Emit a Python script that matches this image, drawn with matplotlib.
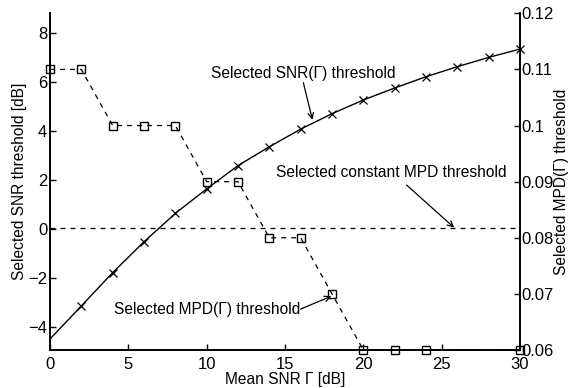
import matplotlib
matplotlib.use("Agg")
import matplotlib.pyplot as plt

plt.rcParams['font.family'] = ['Liberation Sans', 'DejaVu Sans']

snr_x = [0, 2, 4, 6, 8, 10, 12, 14, 16, 18, 20, 22, 24, 26, 28, 30]
snr_thr = [-4.48, -3.13, -1.77, -0.51, 0.65, 1.65, 2.6, 3.37, 4.09, 4.72, 5.28, 5.77, 6.23, 6.64, 7.02, 7.36]

mpd_x = [0, 2, 4, 6, 8, 10, 12, 14, 16, 18, 20, 22, 24, 30]
mpd_thr = [0.11, 0.11, 0.10, 0.10, 0.10, 0.09, 0.09, 0.08, 0.08, 0.07, 0.06, 0.06, 0.06, 0.06]

const_mpd = 0.0818

fig = plt.figure(figsize=(5.71, 3.88), dpi=100)
ax = fig.add_axes([0.0876, 0.0979, 0.8231, 0.8678])
ax2 = ax.twinx()

ax.plot(snr_x, snr_thr, '-', color='black', lw=1.0, marker='x', ms=6, mew=0.9,
        markevery=slice(1, None), clip_on=False, zorder=3)
ax2.plot(mpd_x, mpd_thr, '--', color='black', lw=0.9, marker='s', ms=6, mew=1.0,
         mfc='none', dashes=(4, 4), clip_on=False, zorder=3)
ax2.plot([0, 30], [const_mpd, const_mpd], '--', color='black', lw=0.9, dashes=(4, 4))

ax.set_xlim(0, 30)
ax.set_ylim(-4.93, 8.82)
ax2.set_ylim(0.06, 0.12)
ax.set_xticks([0, 5, 10, 15, 20, 25, 30])
ax.set_yticks([-4, -2, 0, 2, 4, 6, 8])
ax2.set_yticks([0.06, 0.07, 0.08, 0.09, 0.1, 0.11, 0.12])
ax2.set_yticklabels(['0.06', '0.07', '0.08', '0.09', '0.1', '0.11', '0.12'])

for a in (ax, ax2):
    a.spines['top'].set_visible(False)
    for s in ('left', 'right', 'bottom'):
        a.spines[s].set_linewidth(1.4)
    a.tick_params(direction='in', length=4, width=1.0, labelsize=12, pad=2)
ax.tick_params(axis='x', pad=5)
ax2.tick_params(pad=1)
ax2.spines['left'].set_visible(False)
ax.spines['right'].set_visible(False)
ax2.spines['bottom'].set_visible(False)

ax.set_xlabel('Mean SNR Γ [dB]', fontsize=11.2, labelpad=0)
ax.set_ylabel('Selected SNR threshold [dB]', fontsize=11.2, labelpad=1)
ax2.set_ylabel('Selected MPD(Γ) threshold', fontsize=11.2, labelpad=0)

akw = dict(arrowstyle='->', color='black', lw=0.9, shrinkA=0, shrinkB=0)
ax.text(16.15, 6.35, 'Selected SNR(Γ) threshold', fontsize=11.2, ha='center', va='center')
ax.annotate('', xy=(16.75, 4.47), xytext=(16.17, 5.99), arrowprops=akw)
ax2.annotate('', xy=(25.8, 0.0818), xytext=(22.76, 0.0894), arrowprops=akw)
ax2.text(21.76, 0.0917, 'Selected constant MPD threshold', fontsize=11.2, ha='center', va='center')
ax2.annotate('', xy=(17.96, 0.0696), xytext=(16.0, 0.0673), arrowprops=akw)
ax2.text(10.0, 0.0673, 'Selected MPD(Γ) threshold', fontsize=11.2, ha='center', va='center')

fig.savefig('out.png', dpi=100)
